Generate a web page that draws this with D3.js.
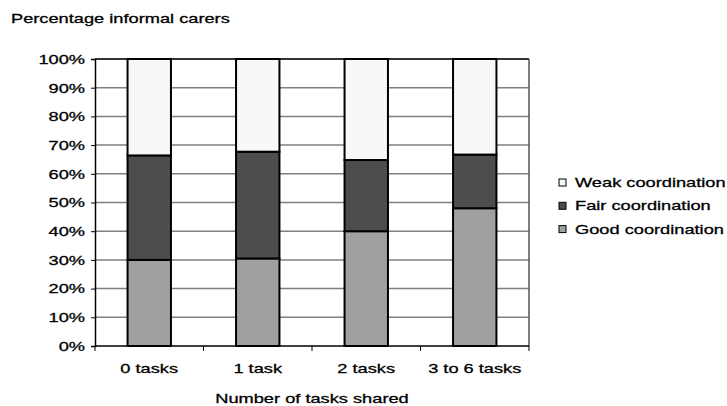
<!DOCTYPE html>
<html>
<head>
<meta charset="utf-8">
<script src="https://cdn.jsdelivr.net/npm/d3@7"></script>
<style>
    body { margin: 0; background: #fff; }
    text { font-family: "Liberation Sans", Arial, sans-serif; font-size: 13.5px; fill: #000; stroke: #000; stroke-width: 0.3px; }
</style>
</head>
<body>
<script>
// data
const categories = ["0 tasks", "1 task", "2 tasks", "3 to 6 tasks"];
const goodValues = [0.30, 0.305, 0.40, 0.48];
const fairValues = [0.364, 0.372, 0.248, 0.187];
const weakValues = [0.336, 0.323, 0.352, 0.333];
const seriesNames = ["Good coordination", "Fair coordination", "Weak coordination"];
const seriesColors = ["#a0a0a0", "#4d4d4d", "#f8f8f8"];
const yTicks = [0, 0.1, 0.2, 0.3, 0.4, 0.5, 0.6, 0.7, 0.8, 0.9, 1.0];

const width = 727;
const height = 406;
const marginTop = 59;
const marginLeft = 95;
const chartWidth = 434;
const chartHeight = 287;
const stretchK = 1.35; // the original text is drawn wide

// glyphs in the reference are horizontally stretched
function stretch(sel) {
    sel.each(function () {
        const len = this.getComputedTextLength();
        d3.select(this)
            .attr("textLength", len * stretchK)
            .attr("lengthAdjust", "spacingAndGlyphs");
    });
}

const svg = d3.select("body")
    .append("svg")
    .attr("width", width)
    .attr("height", height);

// table for d3.stack
const table = categories.map((c, i) => ({
    cat: c,
    "Good coordination": goodValues[i],
    "Fair coordination": fairValues[i],
    "Weak coordination": weakValues[i]
}));
const stacked = d3.stack().keys(seriesNames)(table);

const xScale = d3.scaleBand()
    .domain(categories)
    .range([0, chartWidth])
    .paddingInner(0.6)
    .paddingOuter(0.3);

const yScale = d3.scaleLinear()
    .domain([0, 1])
    .range([chartHeight, 0]);

const g = svg.append("g")
    .attr("transform", "translate(" + marginLeft + "," + marginTop + ")");

// gridlines
g.append("g")
    .selectAll("line")
    .data(yTicks.slice(1))
    .join("line")
    .attr("x1", 0)
    .attr("x2", chartWidth)
    .attr("y1", d => yScale(d))
    .attr("y2", d => yScale(d))
    .attr("stroke", d => d === 1 ? "#333" : "#808080")
    .attr("stroke-width", d => d === 1 ? 2 : 1.5);

// right border
g.append("line")
    .attr("x1", chartWidth)
    .attr("x2", chartWidth)
    .attr("y1", 0)
    .attr("y2", chartHeight)
    .attr("stroke", "#555")
    .attr("stroke-width", 1.5);

// bars
g.append("g")
    .selectAll("g")
    .data(stacked)
    .join("g")
    .attr("fill", (d, i) => seriesColors[i])
    .selectAll("rect")
    .data(d => d)
    .join("rect")
    .attr("x", d => xScale(d.data.cat))
    .attr("y", d => yScale(d[1]))
    .attr("width", xScale.bandwidth())
    .attr("height", d => yScale(d[0]) - yScale(d[1]))
    .attr("stroke", "#000")
    .attr("stroke-width", 2);

// y axis
const yAxis = g.append("g")
    .call(d3.axisLeft(yScale).tickValues(yTicks).tickFormat(d3.format(".0%")).tickSize(4).tickPadding(6));
yAxis.select(".domain").attr("stroke", "#000").attr("stroke-width", 1.5);
yAxis.selectAll("text").attr("font-size", null).attr("font-family", null);
stretch(yAxis.selectAll("text"));

// x axis: ticks sit between the categories
const xAxis = g.append("g")
    .attr("transform", "translate(0," + chartHeight + ")");
xAxis.append("line")
    .attr("x1", 0).attr("x2", chartWidth)
    .attr("stroke", "#000").attr("stroke-width", 1.5);
xAxis.selectAll(".tk")
    .data(d3.range(categories.length + 1))
    .join("line")
    .attr("class", "tk")
    .attr("x1", i => i * xScale.step())
    .attr("x2", i => i * xScale.step())
    .attr("y1", 0).attr("y2", 5)
    .attr("stroke", "#000");
const xLabels = xAxis.selectAll(".lbl")
    .data(categories)
    .join("text")
    .attr("class", "lbl")
    .attr("x", d => xScale(d) + xScale.bandwidth() / 2)
    .attr("y", 27)
    .attr("text-anchor", "middle")
    .text(d => d);
stretch(xLabels);

// titles
const title = svg.append("text")
    .attr("x", 11)
    .attr("y", 23)
    .text("Percentage informal carers");
stretch(title);

const xTitle = svg.append("text")
    .attr("x", marginLeft + chartWidth / 2)
    .attr("y", 403)
    .attr("text-anchor", "middle")
    .text("Number of tasks shared");
stretch(xTitle);

// legend, weak on top
const legendItems = seriesNames.map((n, i) => ({ name: n, color: seriesColors[i] })).reverse();
const legend = svg.append("g")
    .attr("transform", "translate(559,179)");
const li = legend.selectAll("g")
    .data(legendItems)
    .join("g")
    .attr("transform", (d, i) => "translate(0," + i * 23.3 + ")");
li.append("rect")
    .attr("width", 7)
    .attr("height", 7)
    .attr("fill", d => d.color)
    .attr("stroke", "#000")
    .attr("stroke-width", 1);
const legendText = li.append("text")
    .attr("x", 16)
    .attr("y", 8)
    .text(d => d.name);
stretch(legendText);
</script>
</body>
</html>
